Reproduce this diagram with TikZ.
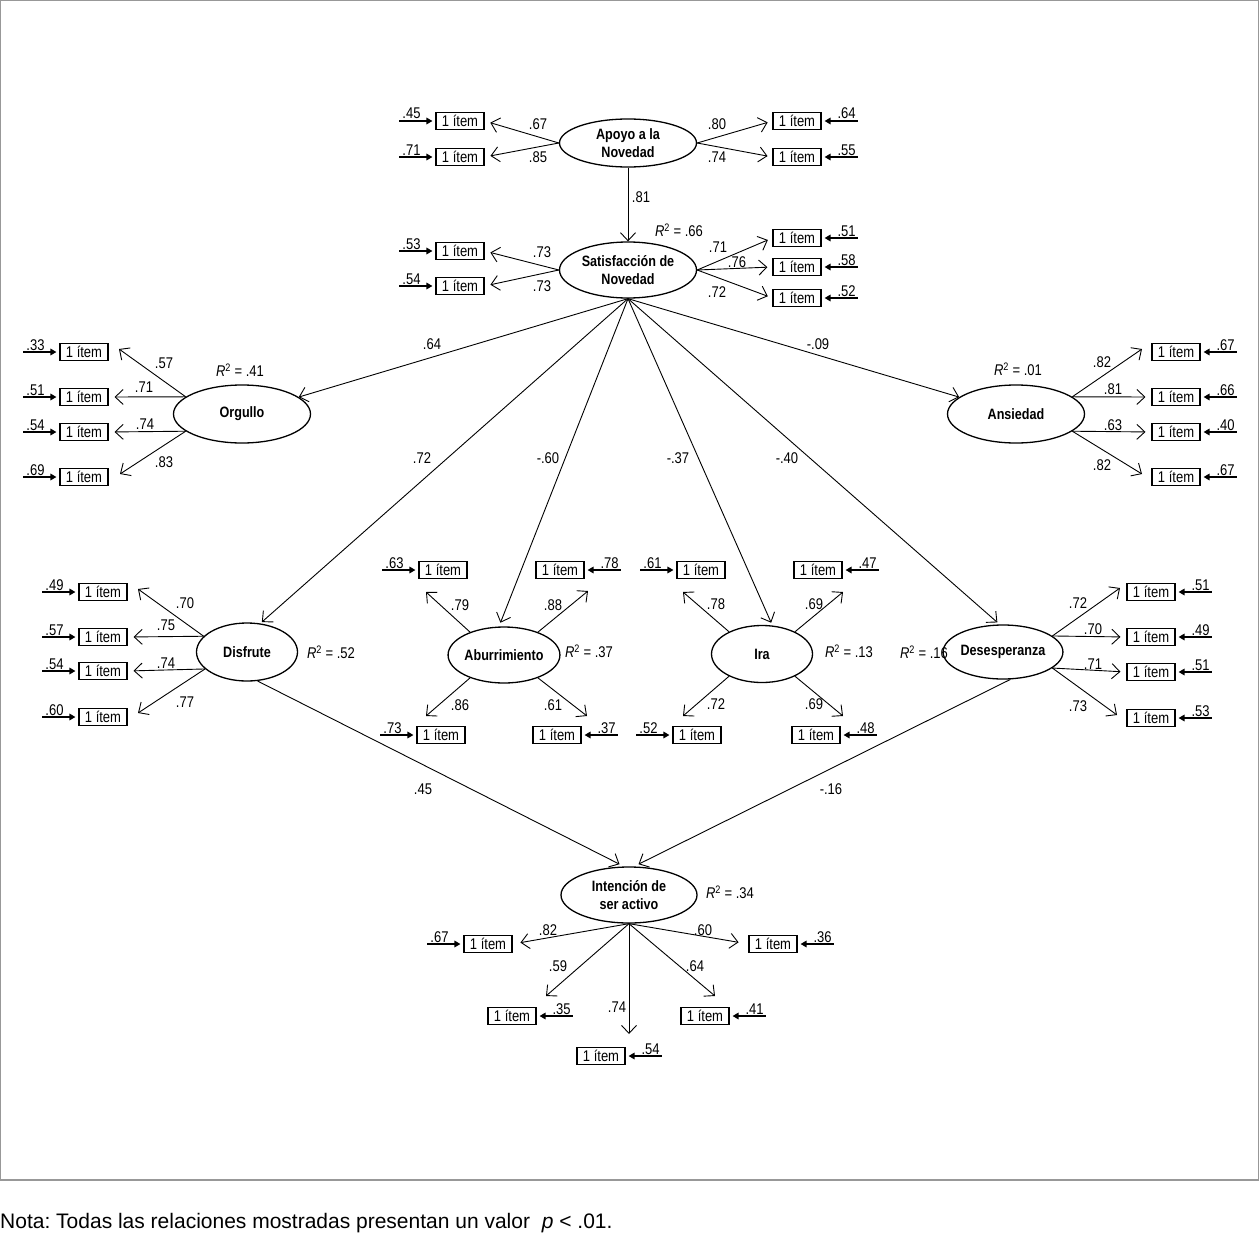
\documentclass[tikz,border=0pt]{standalone}
\usepackage{fontspec}
\setmainfont{Liberation Sans}
\newfontfamily\cf[FakeStretch=0.84]{Liberation Sans}
\usetikzlibrary{shapes.geometric,arrows.meta,calc}
\newcommand\errL[2]{%
  \coordinate (#1-e) at ($(#1.west)+(-36,0)$);
  \draw[err,shorten >=3pt] (#1-e) -- (#1.west);
  \node[elab] (#1-l) at ($(#1-e)+(12,-2)$) {#2};}
\newcommand\errR[2]{%
  \coordinate (#1-e) at ($(#1.east)+(36,0)$);
  \draw[err,shorten >=3pt] (#1-e) -- (#1.east);
  \node[elab] (#1-l) at ($(#1-e)+(-11,-2)$) {#2};}
\newcommand\rsq[1]{\textit{R}\textsuperscript{2} = #1}
\begin{document}
\frenchspacing
\begin{tikzpicture}[x=1pt,y=-1pt,
 lat/.style={ellipse,draw,line width=1.3pt,inner sep=0pt,align=center,
   font=\cf\fontsize{15}{18}\selectfont\bfseries},
 itm/.style={draw,line width=1.1pt,minimum width=48pt,minimum height=17.5pt,inner sep=0pt,
   font=\cf\fontsize{15.5}{16}\selectfont},
 lbl/.style={font=\cf\fontsize{15.5}{17}\selectfont,inner sep=0pt},
 elab/.style={font=\cf\fontsize{15.5}{17}\selectfont,inner sep=0pt,anchor=base},
 ld/.style={line width=0.9pt,-{Straight Barb[length=8pt,width=15pt,line width=0.9pt]}},
 err/.style={line width=1.9pt,-{Triangle[length=6pt,width=6.5pt]}},
]
\useasboundingbox (0,0) rectangle (1260,1236);
\draw[gray!85!black!70,line width=1.4pt] (0.7,0.7) rectangle (1258.3,1180);

% ---------- latent variables
\node[lat,minimum width=137pt,minimum height=48pt] (apo) at (628,143) {Apoyo a la\\Novedad};
\node[lat,minimum width=137pt,minimum height=56pt] (sat) at (628,270) {Satisfacción de\\Novedad};
\node[lat,minimum width=137pt,minimum height=58pt] (org) at (242,414) {Orgullo};
\node[lat,minimum width=137pt,minimum height=58pt] (ans) at (1016,414) {Ansiedad};
\node[lat,minimum width=101pt,minimum height=58pt] (dis) at (247,652) {Disfrute};
\node[lat,minimum width=101pt,minimum height=56pt] (abu) at (504,655) {Aburrimiento};
\node[lat,minimum width=101pt,minimum height=57pt] (ira) at (762,654) {Ira};
\node[lat,minimum width=97pt,minimum height=54pt] (des) at (1003,652) {Desesperanza};
\node[lat,minimum width=136pt,minimum height=56pt] (int) at (629,895) {Intención de\\ser activo};

% ---------- Apoyo / Satisfaccion items
\node[itm] (a1) at (460,121) {1 ítem};
\node[itm] (a2) at (460,157) {1 ítem};
\node[itm] (a3) at (797,121) {1 ítem};
\node[itm] (a4) at (797,157) {1 ítem};
\node[itm] (s1) at (460,251) {1 ítem};
\node[itm] (s2) at (460,286) {1 ítem};
\node[itm] (s3) at (797,238) {1 ítem};
\node[itm] (s4) at (797,267) {1 ítem};
\node[itm] (s5) at (797,298) {1 ítem};
\errL{a1}{.45} \errL{a2}{.71} \errR{a3}{.64} \errR{a4}{.55}
\errL{s1}{.53} \errL{s2}{.54} \errR{s3}{.51} \errR{s4}{.58} \errR{s5}{.52}
\foreach \b in {a1,a2} \draw[ld,shorten >=6pt] (apo.west) -- (\b.east);
\foreach \b in {a3,a4} \draw[ld,shorten >=5pt] (apo.east) -- (\b.west);
\foreach \b in {s1,s2} \draw[ld,shorten >=6pt] (sat.west) -- (\b.east);
\foreach \b in {s3,s4,s5} \draw[ld,shorten >=5pt] (sat.east) -- (\b.west);
\draw[ld] (apo.south) -- (sat.north);
\node[lbl] (la1) at (538,124) {.67};
\node[lbl] (la2) at (538,157) {.85};
\node[lbl] (la3) at (717,124) {.80};
\node[lbl] (la4) at (717,157) {.74};
\node[lbl] (l81) at (641,197) {.81};
\node[lbl] (r66) at (679,230) {\rsq{.66}};
\node[lbl] (ls1) at (542,252) {.73};
\node[lbl] (ls2) at (542,286) {.73};
\node[lbl] (ls3) at (718,247) {.71};
\node[lbl] (ls4) at (737,262) {.76};
\node[lbl] (ls5) at (717,292) {.72};

% ---------- structural paths from Satisfaccion
\draw[ld] (sat.south) -- (org);
\draw[ld] (sat.south) -- (ans);
\draw[ld,shorten >=2pt] (sat.south) -- (dis.65);
\draw[ld,shorten >=4pt] (sat.south) -- (abu.100);
\draw[ld,shorten >=3pt] (sat.south) -- (ira.70);
\draw[ld,shorten >=3pt] (sat.south) -- (des.97);
\node[lbl] (p1) at (432,344) {.64};
\node[lbl] (p2) at (818,344) {-.09};
\node[lbl] (p3) at (422,458) {.72};
\node[lbl] (p4) at (548,458) {-.60};
\node[lbl] (p5) at (678,458) {-.37};
\node[lbl] (p6) at (787,458) {-.40};

% ---------- Orgullo
\node[itm] (o1) at (84,352) {1 ítem};
\node[itm] (o2) at (84,397) {1 ítem};
\node[itm] (o3) at (84,432) {1 ítem};
\node[itm] (o4) at (84,477) {1 ítem};
\errL{o1}{.33} \errL{o2}{.51} \errL{o3}{.54} \errL{o4}{.69}
\coordinate (ot1) at (119,349);
\coordinate (ot4) at (120,474);
\draw[ld] (org.163) -- (ot1);
\draw[ld,shorten >=6pt] (org.163) -- (o2.east);
\draw[ld,shorten >=6pt] (org.197) -- (o3.east);
\draw[ld] (org.197) -- (ot4);
\node[lbl] (lo1) at (164,363) {.57};
\node[lbl] (lo2) at (144,387) {.71};
\node[lbl] (lo3) at (145,424) {.74};
\node[lbl] (lo4) at (164,462) {.83};
\node[lbl] (r41) at (240,370) {\rsq{.41}};

% ---------- Ansiedad
\node[itm] (n1) at (1176,352) {1 ítem};
\node[itm] (n2) at (1176,397) {1 ítem};
\node[itm] (n3) at (1176,432) {1 ítem};
\node[itm] (n4) at (1176,477) {1 ítem};
\errR{n1}{.67} \errR{n2}{.66} \errR{n3}{.40} \errR{n4}{.67}
\coordinate (nt1) at (1142,349);
\coordinate (nt4) at (1142,474);
\draw[ld] (ans.17) -- (nt1);
\draw[ld,shorten >=6pt] (ans.17) -- (n2.west);
\draw[ld,shorten >=6pt] (ans.343) -- (n3.west);
\draw[ld] (ans.343) -- (nt4);
\node[lbl] (ln1) at (1102,362) {.82};
\node[lbl] (ln2) at (1113,389) {.81};
\node[lbl] (ln3) at (1113,425) {.63};
\node[lbl] (ln4) at (1102,465) {.82};
\node[lbl] (r01) at (1018,369) {\rsq{.01}};

% ---------- Disfrute
\node[itm] (d1) at (103,592) {1 ítem};
\node[itm] (d2) at (103,637) {1 ítem};
\node[itm] (d3) at (103,671) {1 ítem};
\node[itm] (d4) at (103,717) {1 ítem};
\errL{d1}{.49} \errL{d2}{.57} \errL{d3}{.54} \errL{d4}{.60}
\coordinate (dt1) at (138,589);
\coordinate (dt4) at (138,713);
\draw[ld] (dis.160) -- (dt1);
\draw[ld,shorten >=6pt] (dis.160) -- (d2.east);
\draw[ld,shorten >=6pt] (dis.202) -- (d3.east);
\draw[ld] (dis.202) -- (dt4);
\node[lbl] (ld1) at (185,603) {.70};
\node[lbl] (ld2) at (166,625) {.75};
\node[lbl] (ld3) at (166,663) {.74};
\node[lbl] (ld4) at (185,702) {.77};
\node[lbl] (r52) at (331,652) {\rsq{.52}};

% ---------- Aburrimiento
\node[itm] (b1) at (443,570) {1 ítem};
\node[itm] (b2) at (560,570) {1 ítem};
\node[itm] (b3) at (441,735) {1 ítem};
\node[itm] (b4) at (557,735) {1 ítem};
\errL{b1}{.63} \errR{b2}{.78} \errL{b3}{.73} \errR{b4}{.37}
\coordinate (bt1) at (426,592);
\coordinate (bt2) at (588,591);
\coordinate (bt3) at (426,716);
\coordinate (bt4) at (587,716);
\draw[ld] (abu.146) -- (bt1);
\draw[ld] (abu.34) -- (bt2);
\draw[ld] (abu.214) -- (bt3);
\draw[ld] (abu.326) -- (bt4);
\node[lbl] (lb1) at (460,605) {.79};
\node[lbl] (lb2) at (553,605) {.88};
\node[lbl] (lb3) at (460,705) {.86};
\node[lbl] (lb4) at (553,705) {.61};
\node[lbl] (r37) at (589,651) {\rsq{.37}};

% ---------- Ira
\node[itm] (r1) at (701,570) {1 ítem};
\node[itm] (r2) at (818,570) {1 ítem};
\node[itm] (r3) at (697,735) {1 ítem};
\node[itm] (r4) at (816,735) {1 ítem};
\errL{r1}{.61} \errR{r2}{.47} \errL{r3}{.52} \errR{r4}{.48}
\coordinate (rt1) at (683,592);
\coordinate (rt2) at (843,592);
\coordinate (rt3) at (683,716);
\coordinate (rt4) at (843,716);
\draw[ld] (ira.146) -- (rt1);
\draw[ld] (ira.34) -- (rt2);
\draw[ld] (ira.214) -- (rt3);
\draw[ld] (ira.326) -- (rt4);
\node[lbl] (lr1) at (716,604) {.78};
\node[lbl] (lr2) at (814,604) {.69};
\node[lbl] (lr3) at (716,704) {.72};
\node[lbl] (lr4) at (814,704) {.69};
\node[lbl] (r13) at (849,651) {\rsq{.13}};

% ---------- Desesperanza
\node[itm] (e1) at (1151,592) {1 ítem};
\node[itm] (e2) at (1151,637) {1 ítem};
\node[itm] (e3) at (1151,672) {1 ítem};
\node[itm] (e4) at (1151,718) {1 ítem};
\errR{e1}{.51} \errR{e2}{.49} \errR{e3}{.51} \errR{e4}{.53}
\coordinate (et1) at (1120,588);
\coordinate (et4) at (1117,715);
\draw[ld] (des.18) -- (et1);
\draw[ld,shorten >=6pt] (des.18) -- (e2.west);
\draw[ld,shorten >=6pt] (des.342) -- (e3.west);
\draw[ld] (des.342) -- (et4);
\node[lbl] (le1) at (1078,603) {.72};
\node[lbl] (le2) at (1093,629) {.70};
\node[lbl] (le3) at (1093,664) {.71};
\node[lbl] (le4) at (1078,706) {.73};
\node[lbl] (r16) at (924,652) {\rsq{.16}};

% ---------- to Intencion
\draw[ld,shorten >=5pt] (dis.290) -- (int.100);
\draw[ld,shorten >=5pt] (des.285) -- (int.80);
\node[lbl] (q1) at (423,789) {.45};
\node[lbl] (q2) at (831,789) {-.16};
\node[lbl] (r34) at (730,892) {\rsq{.34}};

% ---------- Intencion items
\node[itm] (i1) at (488,944) {1 ítem};
\node[itm] (i2) at (512,1016) {1 ítem};
\node[itm] (i3) at (601,1056) {1 ítem};
\node[itm] (i4) at (705,1016) {1 ítem};
\node[itm] (i5) at (773,944) {1 ítem};
\errL{i1}{.67} \errR{i2}{.35} \errR{i3}{.54} \errR{i4}{.41} \errR{i5}{.36}
\coordinate (it2) at (546,996);
\coordinate (it3) at (629,1034);
\coordinate (it4) at (715,996);
\draw[ld,shorten >=8pt] (int.south) -- (i1.east);
\draw[ld] (int.south) -- (it2);
\draw[ld] (int.south) -- (it3);
\draw[ld] (int.south) -- (it4);
\draw[ld,shorten >=10pt] (int.south) -- (i5.west);
\node[lbl] (li1) at (548,930) {.82};
\node[lbl] (li5) at (703,930) {.60};
\node[lbl] (li2) at (558,966) {.59};
\node[lbl] (li4) at (695,966) {.64};
\node[lbl] (li3) at (617,1007) {.74};

% ---------- note
\node[anchor=base west,inner sep=0pt,font=\fontsize{21}{24}\selectfont] (nota) at (0,1228)
  {Nota: Todas las relaciones mostradas presentan un valor\ \ \textit{p} < .01.};
\end{tikzpicture}
\end{document}
